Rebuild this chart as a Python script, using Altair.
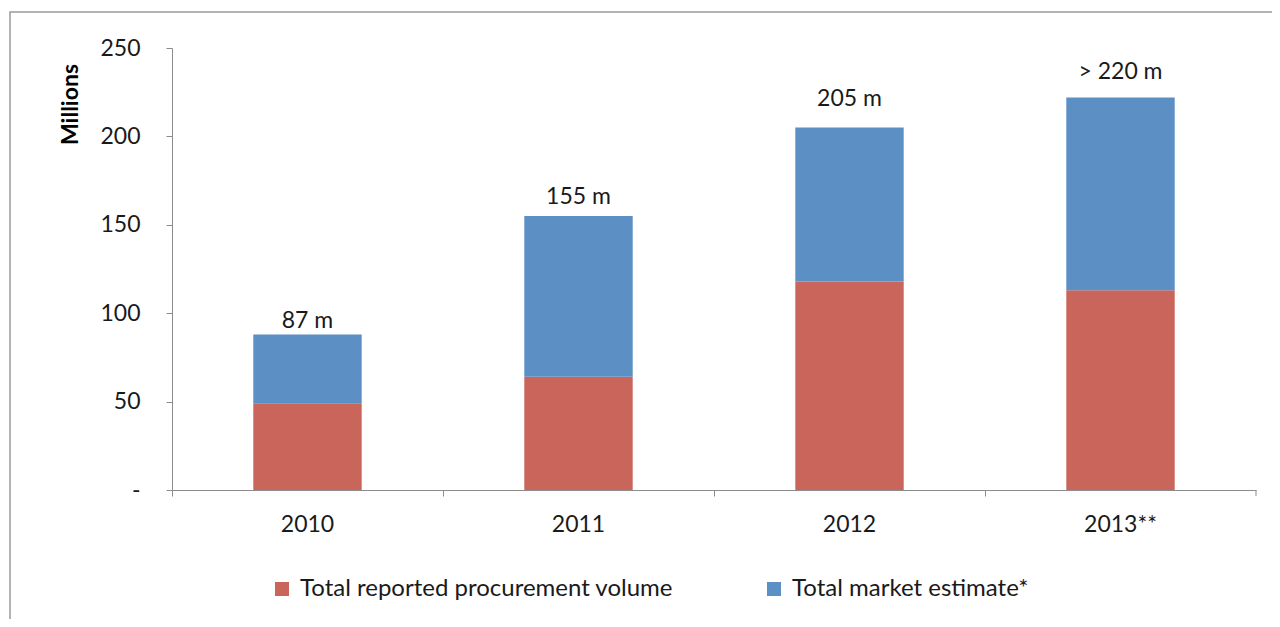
import altair as alt
import pandas as pd

years = ["2010", "2011", "2012", "2013**"]
reported = [49, 64, 118, 113]
estimate_extra = [39, 91, 87, 109]
total_labels = ["87 m", "155 m", "205 m", "> 220 m"]
label_level = [95.5, 166, 221, 236.5]
series = ["Total reported procurement volume", "Total market estimate*"]
colors = ["#C9655A", "#5C90C5"]

rows = []
for i, y in enumerate(years):
    rows.append({"year": y, "series": series[0], "value": reported[i], "ord": 0})
    rows.append({"year": y, "series": series[1], "value": estimate_extra[i], "ord": 1})
df = pd.DataFrame(rows)
lab = pd.DataFrame({"year": years, "level": label_level, "label": total_labels})

W, H = 1084, 442
FONT = "Lato"
FS = 23

xscale = alt.Scale(domain=years, paddingInner=0, paddingOuter=0)

bars = alt.Chart(df).mark_bar(width=alt.RelativeBandSize(0.4)).encode(
    x=alt.X("year:N", scale=xscale, sort=years,
            axis=alt.Axis(title=None, labelAngle=0, bandPosition=0, tickSize=6,
                          labelPadding=17, domainColor="#8C8C8C", tickColor="#8C8C8C",
                          labelFontSize=FS, labelColor="#1a1a1a", labelFont=FONT)),
    y=alt.Y("value:Q", stack="zero", scale=alt.Scale(domain=[0, 250], nice=False),
            axis=alt.Axis(title="Millions", values=[0, 50, 100, 150, 200, 250],
                          labelExpr="datum.value == 0 ? '-' : datum.label",
                          tickSize=6, labelPadding=26, grid=False,
                          domainColor="#8C8C8C", tickColor="#8C8C8C",
                          labelFontSize=FS, labelColor="#1a1a1a", labelFont=FONT,
                          titleFontSize=FS, titleFont=FONT, titleFontWeight="bold",
                          titleColor="#000000", titleAngle=-90, titleX=-102, titleY=56,
                          titleAlign="center", titleBaseline="middle")),
    color=alt.Color("series:N", scale=alt.Scale(domain=series, range=colors),
                    legend=alt.Legend(title=None, orient="none", direction="horizontal",
                                      legendX=98, legendY=529, symbolType="square",
                                      symbolSize=196, symbolStrokeWidth=0,
                                      labelFontSize=24, labelFont=FONT, labelColor="#1a1a1a",
                                      labelOffset=6, columnPadding=88, labelLimit=600)),
    order=alt.Order("ord:Q"),
)

labels = alt.Chart(lab).mark_text(baseline="middle", fontSize=FS, font=FONT,
                                  color="#1a1a1a").encode(
    x=alt.X("year:N", scale=xscale, sort=years),
    y=alt.Y("level:Q"),
    text="label:N",
)

end_tick = alt.Chart(lab.head(1)).mark_rule(color="#8C8C8C").encode(
    x=alt.value(W), y=alt.value(H), y2=alt.value(H + 6)
)

border = alt.Chart(lab.head(1)).mark_rect(fill=None, stroke="#9a9a9a", strokeWidth=1.5).encode(
    x=alt.value(-162), x2=alt.value(W + 300), y=alt.value(-36), y2=alt.value(H + 300)
)

chart = alt.layer(border, bars, labels, end_tick).properties(
    width=W, height=H,
    padding={"left": 164, "top": 40, "right": 16, "bottom": 129},
    autosize=alt.AutoSizeParams(type="none"),
).configure(background="white").configure_view(stroke=None)

chart.save("out.html", embed_options={"renderer": "svg", "actions": False})
